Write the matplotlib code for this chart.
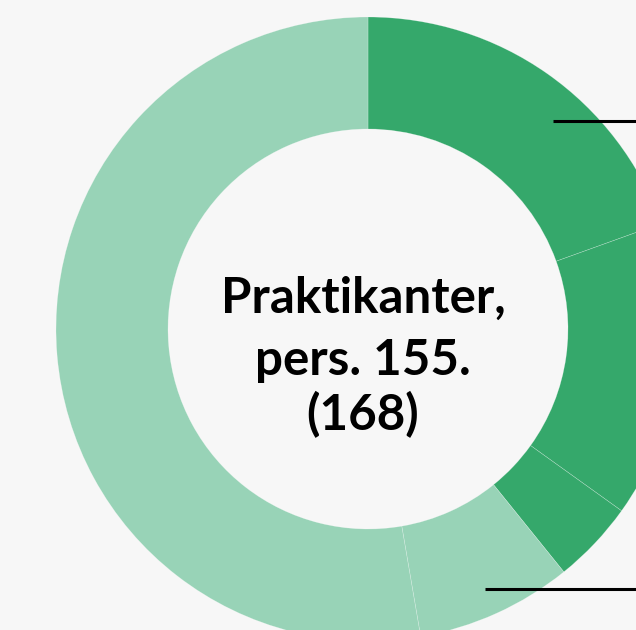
import numpy as np
import matplotlib.pyplot as plt

# share of praktikanter per group (percent), clockwise from 12 o'clock
shares = [19.5, 15.4, 4.3, 8.1, 52.7]
colors = ["#35a86b", "#35a86b", "#35a86b", "#98d3b7", "#98d3b7"]
center_lines = ["Praktikanter,", "pers. 155.", "(168)"]

W, H = 636, 630
bg = "#f7f7f7"

fig = plt.figure(figsize=(W / 100, H / 100), dpi=100, facecolor=bg)
ax = fig.add_axes([0, 0, 1, 1])
ax.set_facecolor(bg)

cx, cy = 368, H - 329
r_out, r_in = 312, 200

wedges, _ = ax.pie(shares, colors=colors, startangle=90, counterclock=False,
                   center=(cx, cy), radius=r_out, frame=True,
                   wedgeprops=dict(width=r_out - r_in, edgecolor=(1, 1, 1, 0.35), linewidth=0.4))
ax.set_xlim(0, W)
ax.set_ylim(0, H)
ax.set_aspect("equal")
ax.axis("off")

# leader lines going out to the (cropped) labels on the right
bounds = np.cumsum([0] + shares) / 100 * 360
for ang, rr in [(41.6, 278), ((bounds[3] + bounds[4]) / 2, 285)]:
    a = np.deg2rad(ang)
    x0 = cx + rr * np.sin(a)
    y0 = cy + rr * np.cos(a)
    ax.plot([x0, W + 5], [y0, y0], color="black", lw=2.2, solid_capstyle="butt", zorder=5)

# text in the hole
baselines = [317, 255, 200]
for txt, yb in zip(center_lines, baselines):
    ax.text(cx - 5, yb, txt, ha="center", va="baseline", fontsize=35.5,
            fontweight="bold", family=["Lato", "DejaVu Sans"], color="black")

fig.savefig("out.png", dpi=100, facecolor=bg)
